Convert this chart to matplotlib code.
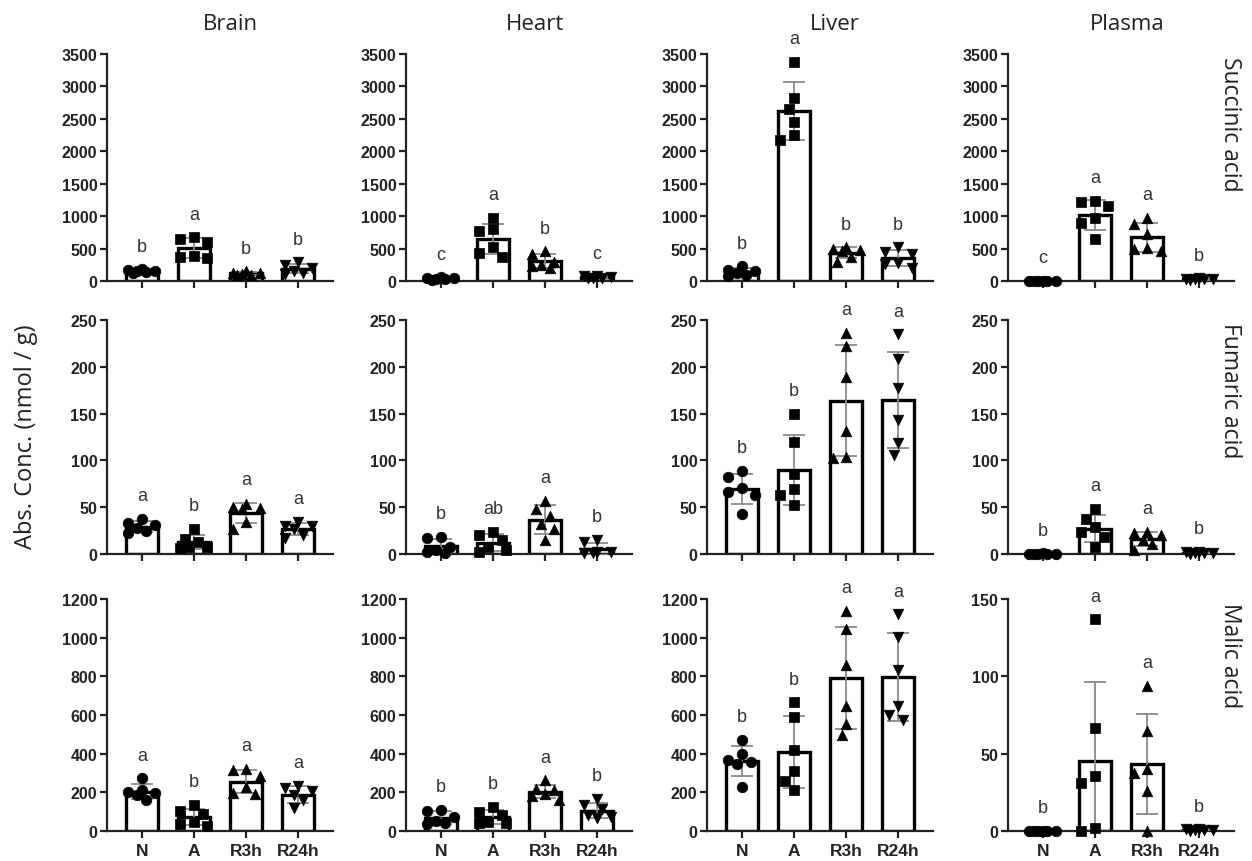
import numpy as np
import matplotlib
matplotlib.use("Agg")
import matplotlib.pyplot as plt

# ---------------- data ----------------
groups = ["N", "A", "R3h", "R24h"]
tissues = ["Brain", "Heart", "Liver", "Plasma"]
acids = ["Succinic acid", "Fumaric acid", "Malic acid"]

# Succinic acid
succ_brain = [[150, 170, 140, 160, 130, 180], [640, 600, 680, 380, 350, 370],
              [150, 130, 110, 100, 90, 120], [290, 240, 200, 160, 130, 110]]
succ_heart = [[50, 30, 40, 60, 20, 35], [978, 798, 772, 530, 437, 376],
              [410, 460, 300, 250, 230, 200], [70, 60, 50, 40, 80, 50]]
succ_liver = [[230, 170, 150, 120, 90, 70], [3383, 2822, 2646, 2459, 2245, 2170],
              [524, 497, 481, 470, 363, 300], [524, 444, 417, 257, 203, 283]]
succ_plasma = [[5, 3, 2, 4, 6, 3], [1220, 1235, 1158, 978, 890, 643],
               [978, 875, 720, 515, 489, 463], [40, 30, 20, 35, 25, 30]]
# Fumaric acid
fum_brain = [[37, 33, 31, 28, 25, 22], [26.5, 16, 13, 8, 7, 6],
             [53, 50, 49.5, 48, 34, 27], [34, 30, 30, 27, 20, 17]]
fum_heart = [[18, 17, 8, 4, 2.5, 1], [24, 20, 15, 8, 4, 2.5],
             [57, 48, 41, 32.5, 26.5, 15], [15, 13, 2.5, 2, 1, 1.5]]
fum_liver = [[88.7, 82.5, 70.4, 66.7, 63.4, 42.9], [149.6, 119.9, 85, 69.6, 63.4, 52.4],
             [235.7, 222.5, 188.8, 130.9, 103.4, 102.6], [234.6, 208.2, 177.8, 143, 118.4, 106.3]]
fum_plasma = [[0.5, 0.3, 0.2, 0.4, 0.6, 0.3], [47.7, 37.6, 28.9, 23.1, 18, 7.2],
              [23, 22, 20, 15, 11, 4], [2, 1.5, 1, 0.5, 1, 2]]
# Malic acid
mal_brain = [[271.6, 211, 203, 194, 186, 160], [134, 105, 90, 45, 35, 25],
             [320, 315, 285, 229, 194, 189], [232, 225, 205, 185, 160, 120]]
mal_heart = [[108, 105, 75, 50, 35, 40], [125, 99, 82, 48, 39, 39],
             [262, 219, 211, 189, 182, 160], [168, 134, 113, 82, 74, 65]]
mal_liver = [[472, 399, 366, 359, 346, 228], [666, 590, 421, 308, 261, 211],
             [1138, 1045, 860, 649, 556, 497], [1121, 1003, 834, 649, 598, 573]]
mal_plasma = [[0.2, 0.1, 0.3, 0.2, 0.1, 0.2], [136.8, 66.6, 35.7, 31.3, 2.2, 0],
              [93.8, 64.4, 40.1, 37.5, 25.8, 0], [1, 0.8, 0.5, 0.3, 1, 0.7]]

# significance letters
succ_letters = [["b", "a", "b", "b"], ["c", "a", "b", "c"], ["b", "a", "b", "b"], ["c", "a", "a", "b"]]
fum_letters = [["a", "b", "a", "a"], ["b", "ab", "a", "b"], ["b", "b", "a", "a"], ["b", "a", "a", "b"]]
mal_letters = [["a", "b", "a", "a"], ["b", "b", "a", "b"], ["b", "b", "a", "a"], ["b", "a", "a", "b"]]

succ_ticks = [0, 500, 1000, 1500, 2000, 2500, 3000, 3500]
fum_ticks = [0, 50, 100, 150, 200, 250]
mal_ticks = [0, 200, 400, 600, 800, 1000, 1200]
mal_plasma_ticks = [0, 50, 100, 150]

ylabel = "Abs. Conc. (nmol / g)"

# ---------------- layout ----------------
W, H = 1252, 862
fig = plt.figure(figsize=(W / 100, H / 100), dpi=100)

col_left = [107, 406, 707, 1008]
ax_w = 226
row_top = [55, 321, 600]
row_bot = [282, 555, 832]

rows = [
    ([succ_brain, succ_heart, succ_liver, succ_plasma], succ_letters,
     [succ_ticks] * 4),
    ([fum_brain, fum_heart, fum_liver, fum_plasma], fum_letters,
     [fum_ticks] * 4),
    ([mal_brain, mal_heart, mal_liver, mal_plasma], mal_letters,
     [mal_ticks, mal_ticks, mal_ticks, mal_plasma_ticks]),
]

markers = ["o", "s", "^", "v"]
XMIN, XMAX = -0.67, 3.67
px_per_x = ax_w / (XMAX - XMIN)


def swarm(vals, px_per_y, step=4.5, thr=11.5, kmax=3):
    vals = np.asarray(vals, float)
    order = np.argsort(-vals)
    placed = []
    offs = np.zeros(len(vals))
    cands = [0]
    for k in range(1, kmax + 1):
        cands += [-k, k]
    for i in order:
        y = vals[i] * px_per_y
        best, bestd = 0, -1
        chosen = None
        for k in cands:
            x = k * step
            d = min([np.hypot(x - px, y - py) for px, py in placed], default=1e9)
            if d >= thr:
                chosen = x
                break
            if d > bestd:
                bestd, best = d, x
        if chosen is None:
            chosen = best
        offs[i] = chosen
        placed.append((chosen, y))
    return offs / px_per_x


tick_font = dict(family="Liberation Sans", weight="bold", size=11.5)

for r, (datasets, letters, ticksets) in enumerate(rows):
    for c in range(4):
        left = col_left[c] / W
        bottom = 1 - row_bot[r] / H
        height = (row_bot[r] - row_top[r]) / H
        ax = fig.add_axes([left, bottom, ax_w / W, height])
        data = datasets[c]
        ticks = ticksets[c]
        ymax = ticks[-1]
        px_per_y = (row_bot[r] - row_top[r]) / ymax
        xs = np.arange(len(groups))
        means = [np.mean(d) for d in data]
        sds = [np.std(d, ddof=1) for d in data]
        ax.bar(xs, means, width=0.62, color="white", edgecolor="black",
               linewidth=2.4, zorder=2)
        ax.errorbar(xs, means, yerr=sds, fmt="none", ecolor="#8a8a8a",
                    elinewidth=1.3, capsize=8, capthick=1.3, zorder=3)
        for i, d in enumerate(data):
            offs = swarm(d, px_per_y)
            ax.scatter(xs[i] + offs, d, marker=markers[i], s=58,
                       color="black", edgecolors="black", linewidths=0.5,
                       zorder=4, clip_on=False)
            top = max(max(d), means[i] + sds[i])
            ax.text(xs[i], top + 0.1 * ymax, letters[c][i], ha="center",
                    va="center", fontsize=13, color="#333333",
                    family="Liberation Sans", clip_on=False)
        ax.set_xlim(XMIN, XMAX)
        ax.set_ylim(0, ymax)
        ax.set_yticks(ticks)
        ax.set_yticklabels([str(t) for t in ticks], fontdict=tick_font,
                           color="#222222")
        ax.set_xticks(xs)
        if r == 2:
            ax.set_xticklabels(groups, fontdict=dict(family="Liberation Sans",
                                                     weight="bold", size=12.5),
                               color="#222222")
        else:
            ax.set_xticklabels([])
        for s in ["top", "right"]:
            ax.spines[s].set_visible(False)
        for s in ["left", "bottom"]:
            ax.spines[s].set_linewidth(1.6)
            ax.spines[s].set_color("#222222")
        ax.tick_params(axis="both", length=5, width=1.6, color="#222222",
                       pad=2)
        ax.tick_params(axis="x", pad=4)

# column titles
title_x = [230, 535, 835, 1127]
for c, t in enumerate(tissues):
    fig.text(title_x[c] / W, 1 - 25 / H, t, ha="center", va="center",
             fontsize=16, family="Open Sans", color="#222222")

# row labels
row_label_y = [124, 391, 656]
for r, t in enumerate(acids):
    fig.text(1230 / W, 1 - row_label_y[r] / H, t, ha="center", va="center",
             rotation=-90, fontsize=16.5, family="Open Sans", color="#222222")

fig.text(26 / W, 1 - 437 / H, ylabel, ha="center", va="center", rotation=90,
         fontsize=17, family="Open Sans", color="#222222")

fig.savefig("out.png", dpi=100)
